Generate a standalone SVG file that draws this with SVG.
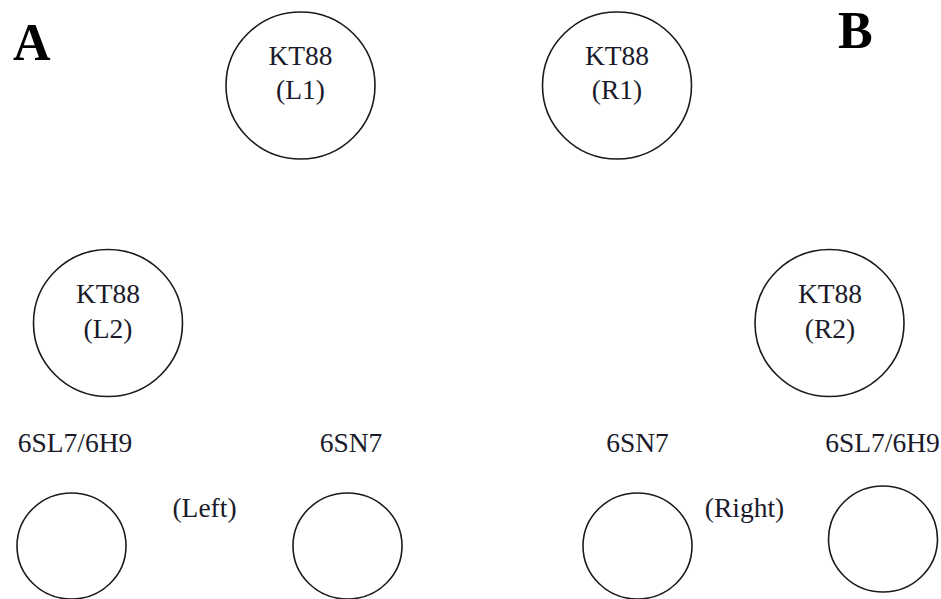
<svg xmlns="http://www.w3.org/2000/svg" width="941" height="599" viewBox="0 0 941 599">
<style>
.tube{fill:none;stroke:#1a1a1a;stroke-width:1.6}
.t{font-family:"Liberation Serif","Times New Roman",serif;font-size:27.5px;fill:#1a1a2a;text-anchor:middle}
.big{font-family:"Liberation Serif","Times New Roman",serif;font-size:52px;font-weight:bold;fill:#000}
</style>
<rect width="941" height="599" fill="#fff"/>
<text class="big" x="13" y="60">A</text>
<text class="big" x="838" y="48">B</text>
<g id="kt88-l1">
<ellipse class="tube" cx="300.5" cy="85.5" rx="74.5" ry="73.5"/>
<text class="t" x="300.5" y="65">KT88</text>
<text class="t" x="300.5" y="99">(L1)</text>
</g>
<g id="kt88-r1">
<ellipse class="tube" cx="617" cy="85.5" rx="74.5" ry="73.5"/>
<text class="t" x="617" y="65">KT88</text>
<text class="t" x="617" y="99">(R1)</text>
</g>
<g id="kt88-l2">
<ellipse class="tube" cx="108" cy="323" rx="74.5" ry="73.5"/>
<text class="t" x="108" y="302.5">KT88</text>
<text class="t" x="108" y="338">(L2)</text>
</g>
<g id="kt88-r2">
<ellipse class="tube" cx="829.5" cy="323" rx="74.5" ry="73.5"/>
<text class="t" x="830" y="302.5">KT88</text>
<text class="t" x="830" y="338">(R2)</text>
</g>
<g id="left-6sl7">
<text class="t" x="75" y="452">6SL7/6H9</text>
<ellipse class="tube" cx="71.5" cy="546" rx="54.5" ry="53"/>
</g>
<g id="left-label">
<text class="t" x="204.5" y="517">(Left)</text>
</g>
<g id="left-6sn7">
<text class="t" x="351" y="452">6SN7</text>
<ellipse class="tube" cx="347.5" cy="546" rx="54.5" ry="53"/>
</g>
<g id="right-6sn7">
<text class="t" x="637.5" y="452">6SN7</text>
<ellipse class="tube" cx="637.5" cy="546" rx="54.5" ry="53"/>
</g>
<g id="right-label">
<text class="t" x="744.5" y="517">(Right)</text>
</g>
<g id="right-6sl7">
<text class="t" x="882.5" y="452">6SL7/6H9</text>
<ellipse class="tube" cx="883" cy="539" rx="54.5" ry="53"/>
</g>
<g id="connectors"></g>
</svg>
